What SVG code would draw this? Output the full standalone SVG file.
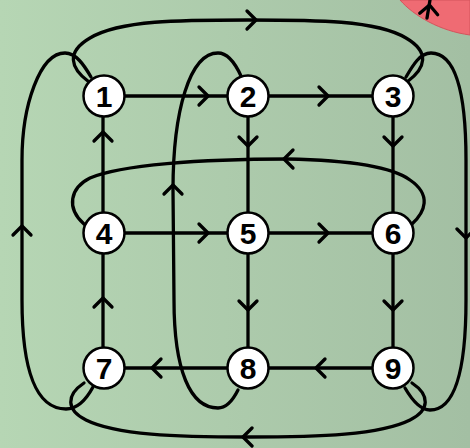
<svg xmlns="http://www.w3.org/2000/svg" xmlns:xlink="http://www.w3.org/1999/xlink" width="470" height="448" viewBox="0 0 470 448">
<style>
.ln{fill:none;stroke:#000;stroke-width:3.3;stroke-linecap:round;stroke-linejoin:round}
.nd circle{fill:#fff;stroke:#000;stroke-width:2.5}
.nd text{font-family:"Liberation Sans",Arial,sans-serif;font-weight:bold;font-size:30px;text-anchor:middle;fill:#000}
</style>
<defs>
<linearGradient id="bg" x1="0" y1="0" x2="1" y2="0">
<stop offset="0" stop-color="#b6d6b4"/>
<stop offset="1" stop-color="#a3bfa3"/>
</linearGradient>
<path id="chev" d="M-9,-9 L0,0 L-9,9" class="ln"/>
</defs>
<rect x="0" y="0" width="470" height="448" fill="url(#bg)"/>
<path d="M400,0 C414,16 440,31 470,35 L470,0 Z" fill="#ef6b73" stroke="#d4545c" stroke-width="1"/>
<g id="connectors">
<path class="ln" d="M104,96 H393 M104,233 H393 M104,368 H393 M103,96 V368 M248,96 V368 M393,96 V368"/>
<path class="ln" d="M89,82 C70,68 66,52 90,38 C120,20 180,20 248,20 C316,20 376,20 406,38 C430,52 426,68 407,82"/>
<path class="ln" d="M93,387 C86,400 78,409 66,409 C36,409 22,370 22,300 L22,160 C22,105 40,53 65,53 C76,53 84,65 91,77"/>
<path class="ln" d="M406,77 C413,65 420,53 431,53 C455,53 466,90 466,160 L466,300 C466,370 455,410 430,410 C420,410 412,400 405,388"/>
<path class="ln" d="M412,383 C430,395 430,410 410,420 C380,435 320,437 248,437 C176,437 116,435 86,420 C66,410 66,395 84,383"/>
<path class="ln" d="M238,390 C232,402 226,408 218,408 C190,408 174,370 174,300 L173,190 C173,110 190,53 218,53 C228,53 236,65 241,76"/>
<path class="ln" d="M412,224 C425,212 432,195 410,180 C390,165 340,160 287,159 C200,159 120,165 90,178 C70,188 66,208 84,224"/>
<path class="ln" d="M427,18 L430,0"/>
<g id="arrowheads">
<use xlink:href="#chev" transform="translate(208,96)"/>
<use xlink:href="#chev" transform="translate(328,96)"/>
<use xlink:href="#chev" transform="translate(208,233)"/>
<use xlink:href="#chev" transform="translate(328,233)"/>
<use xlink:href="#chev" transform="translate(316,368) rotate(180)"/>
<use xlink:href="#chev" transform="translate(152,368) rotate(180)"/>
<use xlink:href="#chev" transform="translate(248,146) rotate(90)"/>
<use xlink:href="#chev" transform="translate(393,146) rotate(90)"/>
<use xlink:href="#chev" transform="translate(248,310) rotate(90)"/>
<use xlink:href="#chev" transform="translate(393,310) rotate(90)"/>
<use xlink:href="#chev" transform="translate(103,298) rotate(270)"/>
<use xlink:href="#chev" transform="translate(103,132) rotate(270)"/>
<use xlink:href="#chev" transform="translate(22,226) rotate(270)"/>
<use xlink:href="#chev" transform="translate(173,185) rotate(270)"/>
<use xlink:href="#chev" transform="translate(284,159) rotate(180)"/>
<use xlink:href="#chev" transform="translate(256,20)"/>
<use xlink:href="#chev" transform="translate(243,437) rotate(180)"/>
<use xlink:href="#chev" transform="translate(466,238) rotate(90)"/>
<use xlink:href="#chev" transform="translate(429.5,5) rotate(275)"/>
</g>
</g>
<g id="n1" class="nd"><circle cx="104" cy="96" r="20.5"/><text x="104" y="107">1</text></g>
<g id="n2" class="nd"><circle cx="248" cy="96" r="20.5"/><text x="248" y="107">2</text></g>
<g id="n3" class="nd"><circle cx="393" cy="96" r="20.5"/><text x="393" y="107">3</text></g>
<g id="n4" class="nd"><circle cx="104" cy="233" r="20.5"/><text x="104" y="244">4</text></g>
<g id="n5" class="nd"><circle cx="248" cy="233" r="20.5"/><text x="248" y="244">5</text></g>
<g id="n6" class="nd"><circle cx="393" cy="233" r="20.5"/><text x="393" y="244">6</text></g>
<g id="n7" class="nd"><circle cx="104" cy="368" r="20.5"/><text x="104" y="379">7</text></g>
<g id="n8" class="nd"><circle cx="248" cy="368" r="20.5"/><text x="248" y="379">8</text></g>
<g id="n9" class="nd"><circle cx="393" cy="368" r="20.5"/><text x="393" y="379">9</text></g>
</svg>
